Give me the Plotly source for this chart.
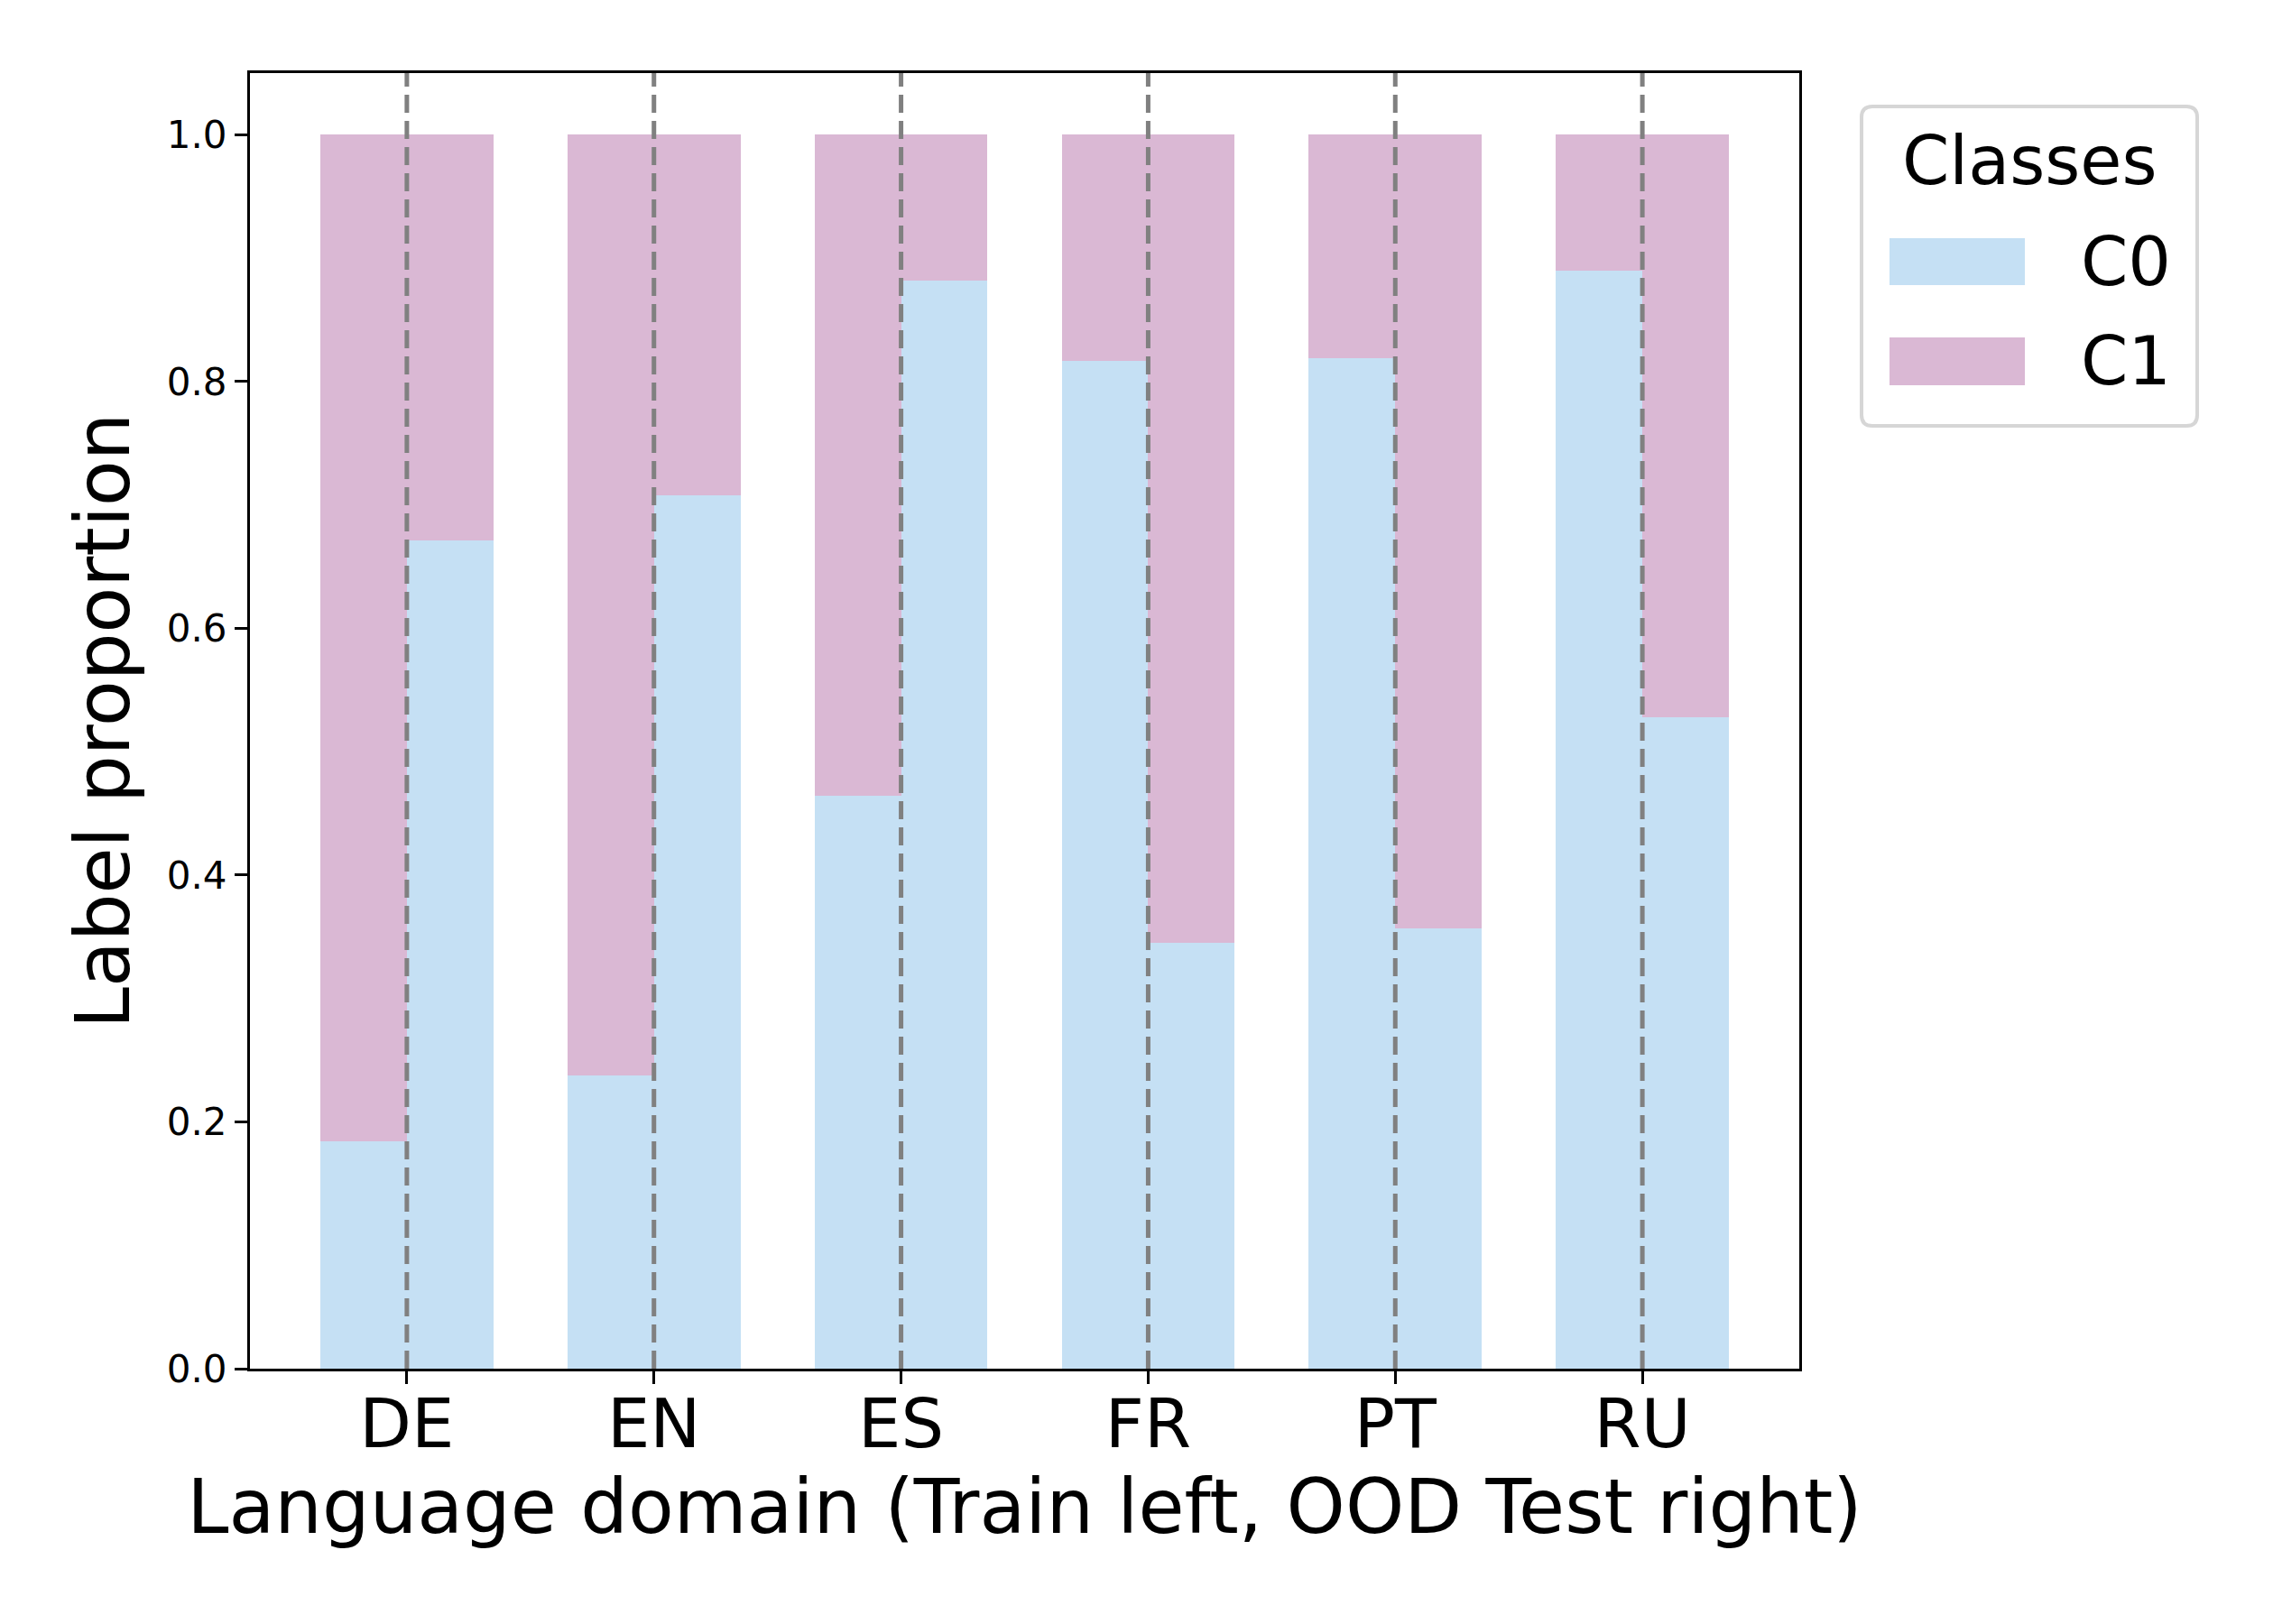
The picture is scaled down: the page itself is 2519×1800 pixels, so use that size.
import plotly.graph_objects as go

# DANE

jezyki = ["DE", "EN", "ES", "FR", "PT", "RU"]
c0_train = [0.184, 0.238, 0.464, 0.817, 0.819, 0.890]
c0_test = [0.671, 0.708, 0.882, 0.345, 0.357, 0.528]
c1_train = [round(1 - v, 3) for v in c0_train]
c1_test = [round(1 - v, 3) for v in c0_test]

kolor_c0 = "#c5e0f4"
kolor_c1 = "#dab8d4"
szer = 0.35

pozycje = list(range(len(jezyki)))
x_train = [p - szer / 2 for p in pozycje]
x_test = [p + szer / 2 for p in pozycje]

# WYKRES

fig = go.Figure()

fig.add_trace(go.Bar(x=x_train, y=c0_train, width=szer, marker_color=kolor_c0,
                     marker_line_width=0, name="C0", showlegend=False))
fig.add_trace(go.Bar(x=x_train, y=c1_train, width=szer, marker_color=kolor_c1,
                     marker_line_width=0, name="C1", showlegend=False))
fig.add_trace(go.Bar(x=x_test, y=c0_test, width=szer, marker_color=kolor_c0,
                     marker_line_width=0, name="C0", showlegend=False))
fig.add_trace(go.Bar(x=x_test, y=c1_test, width=szer, marker_color=kolor_c1,
                     marker_line_width=0, name="C1", showlegend=False))

# przerywane linie pomiedzy train / test
for p in pozycje:
    fig.add_shape(type="line", xref="x", yref="paper", x0=p, x1=p, y0=0, y1=1,
                  line=dict(color="#808080", width=5, dash="20px,9px"))

# legenda rysowana recznie (duze prostokaty jak w matplotlib)
L, R, T, B = 277, 1994, 81, 1517
OFF = 8  # margines body strony


def px_x(v):
    return (v - L) / (R - L)


def px_y(v):
    return (B - v) / (B - T)


x0, x1, y0, y1 = 2063, 2435, 118, 472
r = 12
sciezka = (
    f"M {px_x(x0 + r)} {px_y(y0)} L {px_x(x1 - r)} {px_y(y0)} "
    f"Q {px_x(x1)} {px_y(y0)} {px_x(x1)} {px_y(y0 + r)} "
    f"L {px_x(x1)} {px_y(y1 - r)} "
    f"Q {px_x(x1)} {px_y(y1)} {px_x(x1 - r)} {px_y(y1)} "
    f"L {px_x(x0 + r)} {px_y(y1)} "
    f"Q {px_x(x0)} {px_y(y1)} {px_x(x0)} {px_y(y1 - r)} "
    f"L {px_x(x0)} {px_y(y0 + r)} "
    f"Q {px_x(x0)} {px_y(y0)} {px_x(x0 + r)} {px_y(y0)} Z"
)
fig.add_shape(type="path", xref="paper", yref="paper", path=sciezka,
              line=dict(color="#d6d6d6", width=4), fillcolor="white")

for nazwa, kolor, (ya, yb) in [("C0", kolor_c0, (264, 316)), ("C1", kolor_c1, (374, 427))]:
    fig.add_shape(type="rect", xref="paper", yref="paper",
                  x0=px_x(2094), x1=px_x(2244), y0=px_y(yb), y1=px_y(ya),
                  line_width=0, fillcolor=kolor)
    fig.add_annotation(xref="paper", yref="paper", x=px_x(2304), y=px_y((ya + yb) / 2),
                       xanchor="left", yanchor="middle", text=nazwa, showarrow=False,
                       font=dict(size=75, color="black"))

fig.add_annotation(xref="paper", yref="paper", x=px_x(2249), y=px_y(178),
                   xanchor="center", yanchor="middle", text="Classes", showarrow=False,
                   font=dict(size=75, color="black"))

fig.update_layout(
    width=2519,
    height=1800,
    barmode="stack",
    bargap=0,
    plot_bgcolor="white",
    paper_bgcolor="white",
    font=dict(family="DejaVu Sans", color="black"),
    margin=dict(l=L - OFF, r=2519 - R + OFF, t=T - OFF, b=1800 - B + OFF,
                autoexpand=False),
    showlegend=False,
)

fig.update_xaxes(
    range=[-0.635, 5.635],
    tickvals=pozycje,
    ticktext=jezyki,
    tickfont=dict(size=75),
    ticklabelstandoff=-20,
    ticks="outside",
    ticklen=14,
    tickwidth=3,
    tickcolor="black",
    showline=True,
    linecolor="black",
    linewidth=3,
    mirror=True,
    showgrid=False,
    zeroline=False,
    automargin=False,
    title=dict(text="Language domain (Train left, OOD Test right)",
               font=dict(size=83), standoff=6),
)

fig.update_yaxes(
    range=[0, 1.05],
    tickvals=[0, 0.2, 0.4, 0.6, 0.8, 1.0],
    tickformat=".1f",
    tickfont=dict(size=42),
    ticks="outside",
    ticklen=14,
    tickwidth=3,
    tickcolor="black",
    showline=True,
    linecolor="black",
    linewidth=3,
    mirror=True,
    showgrid=False,
    zeroline=False,
    automargin=False,
    title=dict(text="Label proportion", font=dict(size=83), standoff=14),
)

fig.write_html("out.html")
